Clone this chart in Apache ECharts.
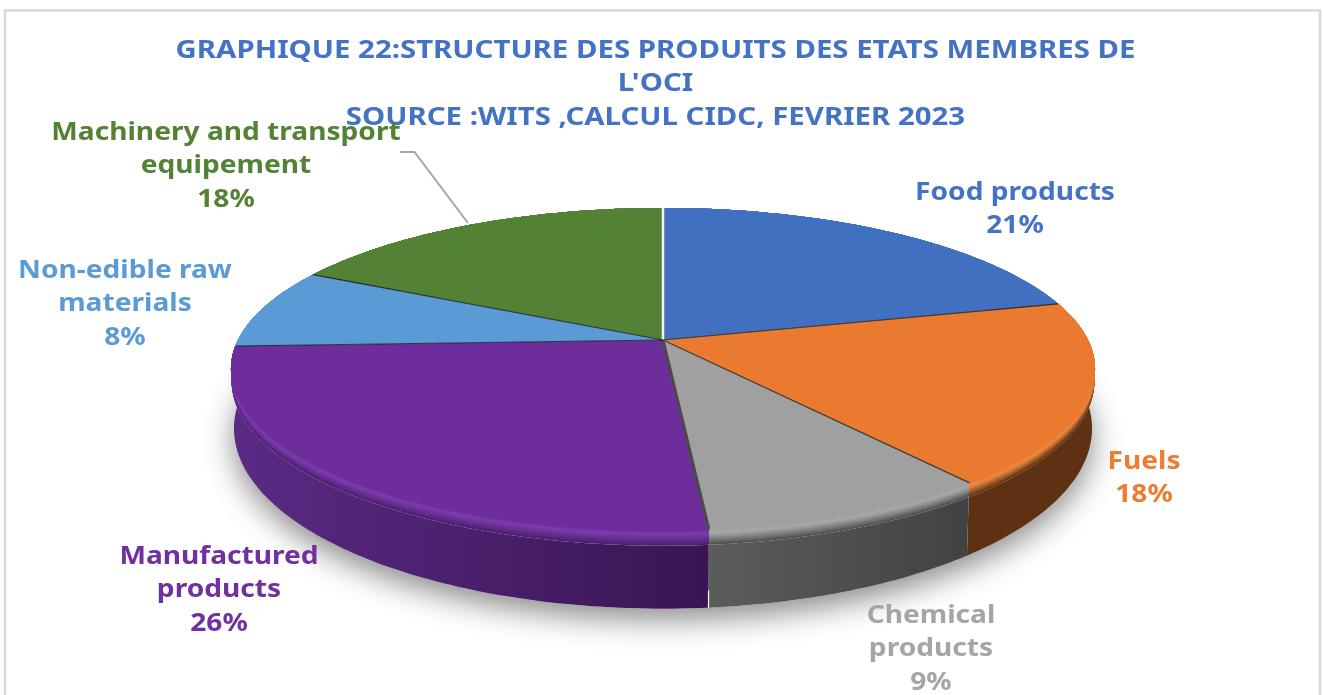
<!DOCTYPE html>
<html><head><meta charset="utf-8">
<style>html,body{margin:0;padding:0;background:#fff;overflow:hidden}#c{width:1323px;height:695px}</style>
<script src="https://cdn.jsdelivr.net/npm/echarts@6/dist/echarts.min.js"></script>
</head><body><div id="c"></div>
<script>
// ---- data ----
const categories = ['Food products','Fuels','Chemical\nproducts','Manufactured\nproducts','Non-edible raw\nmaterials','Machinery and transport\nequipement'];
const shares = [21.1,18.29,9.2,25.8,8.11,17.5];
const titleLines = ['GRAPHIQUE 22:STRUCTURE DES PRODUITS DES ETATS MEMBRES DE',"L'OCI",'SOURCE :WITS ,CALCUL CIDC, FEVRIER 2023'];
// ---- style ----
const topColors = ['#4170c1','#ea7a30','#a0a0a0','#6d2d9a','#5b9bd5','#548235'];
const labelColors = ['#4472c4','#ed7d31','#a5a5a5','#7030a0','#5b9bd5','#548235'];
const rimLight = ['#5a88d8','#f08a42','#a8a8a8','#7d3cb0','#74aee0','#669a44'];
const sideLeft = ['#2a4a80','#5e3112','#5c5c5c','#5b2a85','#3c6ea3','#36561f'];
const sideRight = ['#2a4a80','#5e3112','#424242','#391553','#3c6ea3','#36561f'];
const labelCenters = [[1015,194],[1144,463],[931,617],[219,558],[125,272],[226,134]];
const labelTops = labelCenters.map((c)=>c[1]-18);
const TEXT_STRETCH = 1.125, TITLE_STRETCH = 1.175;
// ---- geometry of the tilted disc ----
const cx=663, cy=340, rx=425, ry=155.8, persp=0.18;
const topMidY=368.5, baseMidY=428, baseX=429/432, baseY=179/160;
function rim(deg){const a=deg*Math.PI/180,s=1/(1+persp*Math.cos(a));
  return [cx+rx*Math.sin(a)*s, cy-ry*Math.cos(a)*s];}
function drop(p,t){const bx=cx+(p[0]-cx)*baseX, by=baseMidY+(p[1]-topMidY)*baseY;
  return [p[0]+(bx-p[0])*t, p[1]+(by-p[1])*t];}
function arcPts(a0,a1){const n=Math.max(2,Math.ceil(Math.abs(a1-a0))),o=[];
  for(let i=0;i<=n;i++)o.push(rim(a0+(a1-a0)*i/n));return o;}
function rgb(h){return [1,3,5].map(i=>parseInt(h.substr(i,2),16));}
function mix(h1,h2,t){const a=rgb(h1),b=rgb(h2);
  return '#'+a.map((v,i)=>Math.round(v+(b[i]-v)*t).toString(16).padStart(2,'0')).join('');}
const total=shares.reduce((a,b)=>a+b,0);
const seriesData=shares.map((v,i)=>({name:categories[i],value:[v,shares.slice(0,i).reduce((a,b)=>a+b,0)]}));
function angles(api){const v=api.value(0),s=api.value(1);return [s/total*360,(s+v)/total*360];}
function band(pts,t0,t1){return pts.map(p=>drop(p,t0)).concat(pts.slice().reverse().map(p=>drop(p,t1)));}

const BEVEL=0.2, BN=12;
function renderShadow(params,api){
  if(params.dataIndex!==0)return null;
  const pts=arcPts(0,360).map(p=>drop(p,1));
  return {type:'polygon',shape:{points:pts},style:{fill:'#fff',shadowBlur:30,shadowColor:'rgba(0,0,0,0.45)',shadowOffsetY:11,shadowOffsetX:0}};
}
function renderSide(params,api){
  const [a0,a1]=angles(api), i=params.dataIndex, pts=arcPts(a0,a1), ch=[];
  const sideMid=mix(sideLeft[i],sideRight[i],0.5);
  ch.push({type:'polygon',shape:{points:band(pts,BEVEL,1)},
    style:{fill:new echarts.graphic.LinearGradient(0,0,1,0,[{offset:0,color:sideLeft[i]},{offset:1,color:sideRight[i]}])}});
  // the rounded rim: painted from its lower edge up, each layer overlapping the one below
  for(let k=BN-1;k>=0;k--){
    const t1=(k+1)/BN*BEVEL, f=k/(BN-1);
    const col=f<0.2?mix(topColors[i],rimLight[i],f/0.2):mix(rimLight[i],sideMid,Math.pow((f-0.2)/0.8,1.2));
    ch.push({type:'polygon',shape:{points:band(pts,0,t1)},style:{fill:col}});
  }
  return {type:'group',children:ch};
}
function renderTop(params,api){
  const [a0,a1]=angles(api), i=params.dataIndex;
  const pts=[[cx,cy]].concat(arcPts(a0,a1));
  return {type:'polygon',shape:{points:pts},style:{fill:topColors[i]}};
}
function renderSeams(params,api){
  const [a0]=angles(api), i=params.dataIndex, p=rim(a0), ch=[];
  const isStart=i===0, isFront=i===3;
  ch.push({type:'line',shape:{x1:cx,y1:cy,x2:p[0],y2:p[1]},
    style:{stroke:isStart?'#f2f2f2':(isFront?'#4a4a4a':'rgba(20,20,20,0.75)'),lineWidth:isStart?2.5:(isFront?3:1.2)}});
  if(isFront){const b=drop(p,1),m=drop(p,.78);
    ch.push({type:'line',shape:{x1:m[0],y1:m[1],x2:b[0],y2:b[1]},style:{stroke:'#fff',lineWidth:1.2}});
  }
  return {type:'group',children:ch};
}
function renderLabels(params,api){
  const i=params.dataIndex, pct=Math.round(api.value(0));
  return {type:'text',x:labelCenters[i][0],y:labelTops[i],scaleX:TEXT_STRETCH,
    style:{text:categories[i]+'\n'+pct+'%',fill:labelColors[i],font:'bold 25px "Noto Sans"',
      align:'center',verticalAlign:'top',lineHeight:33.5}};
}
const common=(r,z)=>({type:'custom',coordinateSystem:'none',renderItem:r,data:seriesData,z:z,silent:true,
  encode:{value:[0,1]},clip:false,animation:false});
const chart=echarts.init(document.getElementById('c'),null,{renderer:'canvas'});
chart.setOption({
  animation:false,backgroundColor:'#fff',
  graphic:[
    {type:'rect',z:0,shape:{x:5,y:10.5,width:1315,height:720},style:{fill:'none',stroke:'#d9d9d9',lineWidth:2.5}},
    {type:'polyline',z:4,shape:{points:[[400,152],[414.5,152],[468,223]]},style:{fill:'none',stroke:'#a6a6a6',lineWidth:2}},
    {type:'text',z:5,x:655.5,y:34,scaleX:TITLE_STRETCH,style:{text:titleLines.join('\n'),fill:'#4472c4',
      font:'bold 25px "Noto Sans"',align:'center',verticalAlign:'top',lineHeight:33.5}}
  ],
  series:[common(renderShadow,1),common(renderSide,2),common(renderTop,3),common(renderSeams,4),common(renderLabels,6)]
});
</script></body></html>
